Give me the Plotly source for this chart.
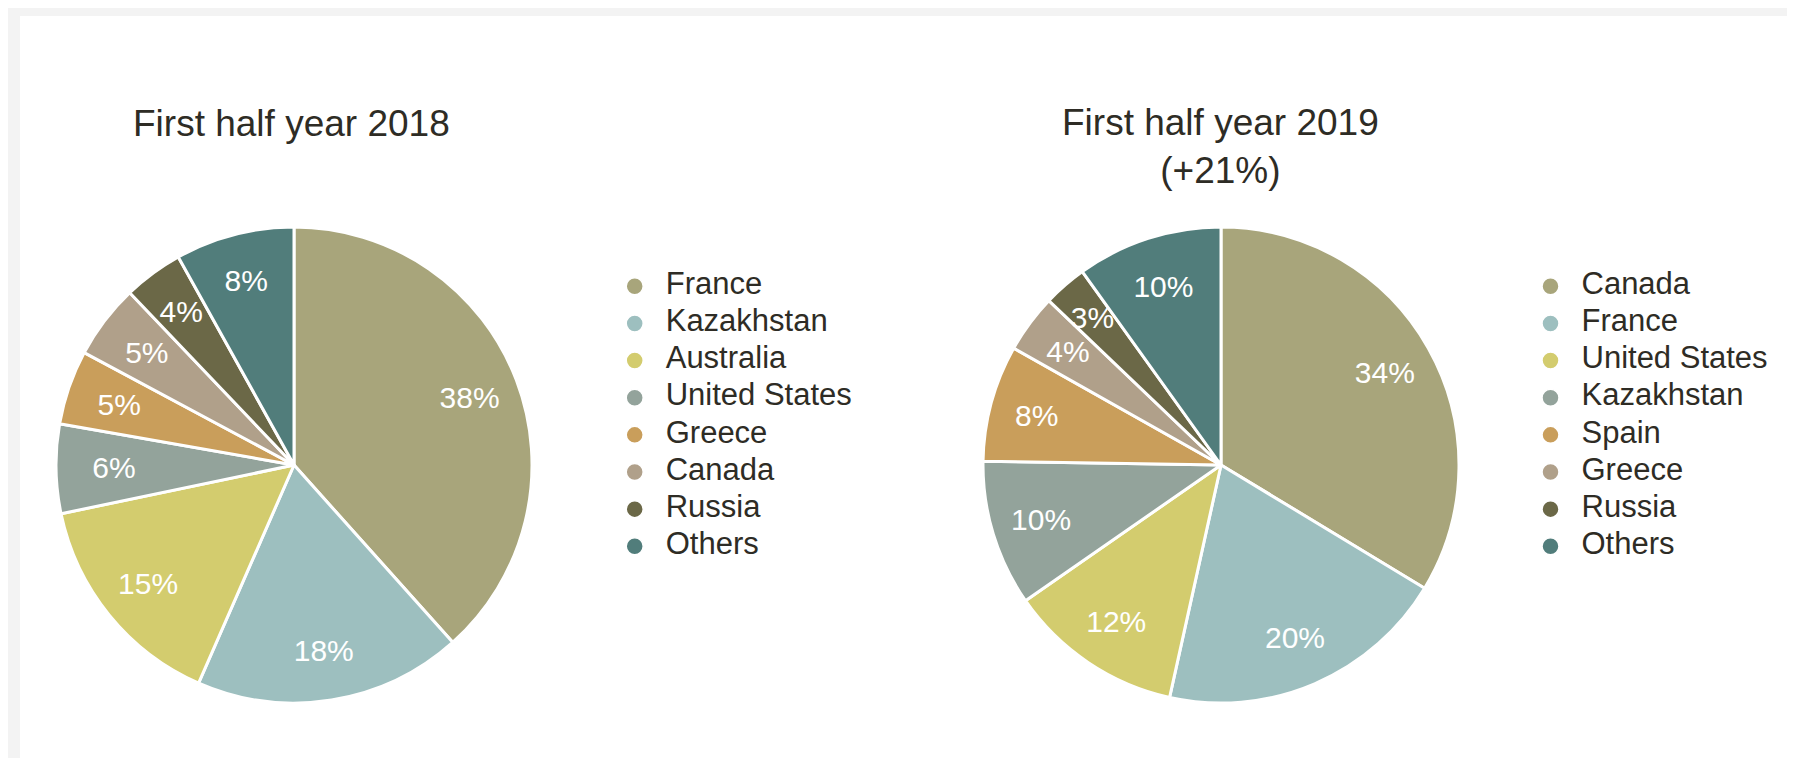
import plotly.graph_objects as go

# ---- data ----
labels_2018 = ["France", "Kazakhstan", "Australia", "United States", "Greece", "Canada", "Russia", "Others"]
values_2018 = [38, 18, 15, 6, 5, 5, 4, 8]
labels_2019 = ["Canada", "France", "United States", "Kazakhstan", "Spain", "Greece", "Russia", "Others"]
values_2019 = [34, 20, 12, 10, 8, 4, 3, 10]
title_2018 = "First half year 2018"
title_2019 = "First half year 2019<br>(+21%)"

palette = ["#a8a57b", "#9dbfbf", "#d3cc6e", "#93a39b", "#c99e5b", "#b0a08a", "#6b6847", "#517d7b"]

W, H = 1795, 758
FONT = "Liberation Sans, Arial, Helvetica, sans-serif"
TXT = "#2e2c25"
LABEL_SIZE = 30

def dom_x(a, b):
    return [a / W, b / W]

def dom_y(top, bottom):
    return [1 - bottom / H, 1 - top / H]

fig = go.Figure()

R, CY = 238, 457
for cx, labels, values in [(286, labels_2018, values_2018), (1213, labels_2019, values_2019)]:
    dom = dict(x=dom_x(cx - R, cx + R), y=dom_y(CY - R, CY + R))
    total = sum(values)
    big_txt = [f"{v}%" if v / total >= 0.07 else "" for v in values]
    small_txt = [f"{v}%" if v / total < 0.07 else "" for v in values]
    # slices
    fig.add_trace(go.Pie(
        labels=labels, values=values, sort=False, direction="clockwise", rotation=0,
        marker=dict(colors=palette, line=dict(color="white", width=3)),
        textinfo="none", domain=dom, showlegend=False, hoverinfo="label+value",
    ))
    # percentage labels of the wider slices (transparent ring overlay)
    fig.add_trace(go.Pie(
        labels=labels, values=values, sort=False, direction="clockwise", rotation=0, hole=0.58,
        marker=dict(colors=["rgba(0,0,0,0)"] * len(values), line=dict(width=0)),
        text=big_txt, texttemplate="%{text}", textposition="inside", insidetextorientation="horizontal",
        textfont=dict(color="white", size=LABEL_SIZE, family=FONT),
        domain=dom, showlegend=False, hoverinfo="skip",
    ))
    # percentage labels of the narrow slices (slightly smaller transparent overlay)
    r2 = 0.9 * R
    fig.add_trace(go.Pie(
        labels=labels, values=values, sort=False, direction="clockwise", rotation=0,
        marker=dict(colors=["rgba(0,0,0,0)"] * len(values), line=dict(width=0)),
        text=small_txt, texttemplate="%{text}", textposition="inside", insidetextorientation="horizontal",
        textfont=dict(color="white", size=LABEL_SIZE, family=FONT),
        domain=dict(x=dom_x(cx - r2, cx + r2), y=dom_y(CY - r2, CY + r2)),
        showlegend=False, hoverinfo="skip",
    ))

# custom legends: circle markers + names on hidden axes
ROW0, STEP = 278.3, 37.14
ytop, ybot = ROW0 - STEP / 2, ROW0 + 7 * STEP + STEP / 2
legend_axes = {}
for i, (labels, mx, tx) in enumerate([(labels_2018, 626.7, 657.7), (labels_2019, 1542.5, 1573.5)]):
    n = i + 2
    xa, ya = f"x{n}", f"y{n}"
    fig.add_trace(go.Scatter(
        x=[0] * len(labels), y=labels, mode="markers", xaxis=xa, yaxis=ya,
        marker=dict(symbol="circle", size=17, color=palette, line=dict(color="white", width=1.5)),
        hoverinfo="skip", showlegend=False, cliponaxis=False,
    ))
    fig.add_trace(go.Scatter(
        x=[1] * len(labels), y=labels, mode="text", text=labels, textposition="middle right",
        textfont=dict(size=31, family=FONT, color=TXT), xaxis=xa, yaxis=ya,
        hoverinfo="skip", showlegend=False, cliponaxis=False,
    ))
    legend_axes[f"xaxis{n}"] = dict(domain=dom_x(mx, tx), range=[0, 1], visible=False, fixedrange=True)
    legend_axes[f"yaxis{n}"] = dict(domain=dom_y(ytop, ybot), range=[len(labels) - 0.5, -0.5],
                                    type="category", categoryorder="array", categoryarray=labels,
                                    visible=False, fixedrange=True, anchor=f"x{n}")

fig.update_layout(
    width=W, height=H, margin=dict(l=0, r=0, t=0, b=0),
    paper_bgcolor="#f3f3f3", plot_bgcolor="rgba(0,0,0,0)",
    xaxis=dict(visible=False), yaxis=dict(visible=False),
    showlegend=False,
    shapes=[dict(type="rect", xref="paper", yref="paper", x0=12 / W, x1=1786 / W, y0=0, y1=1 - 8 / H,
                 fillcolor="white", line=dict(width=0), layer="below")],
    annotations=[
        dict(text=title_2018, x=283.5 / W, y=1 - 115.5 / H, xref="paper", yref="paper", showarrow=False,
             xanchor="center", yanchor="middle", font=dict(size=37, family=FONT, color=TXT)),
        dict(text=title_2019, x=1212 / W, y=1 - 138.5 / H, xref="paper", yref="paper", showarrow=False,
             xanchor="center", yanchor="middle", font=dict(size=37, family=FONT, color=TXT)),
    ],
    uniformtext=dict(minsize=LABEL_SIZE, mode="show"),
    **legend_axes,
)

fig.write_html("out.html")
